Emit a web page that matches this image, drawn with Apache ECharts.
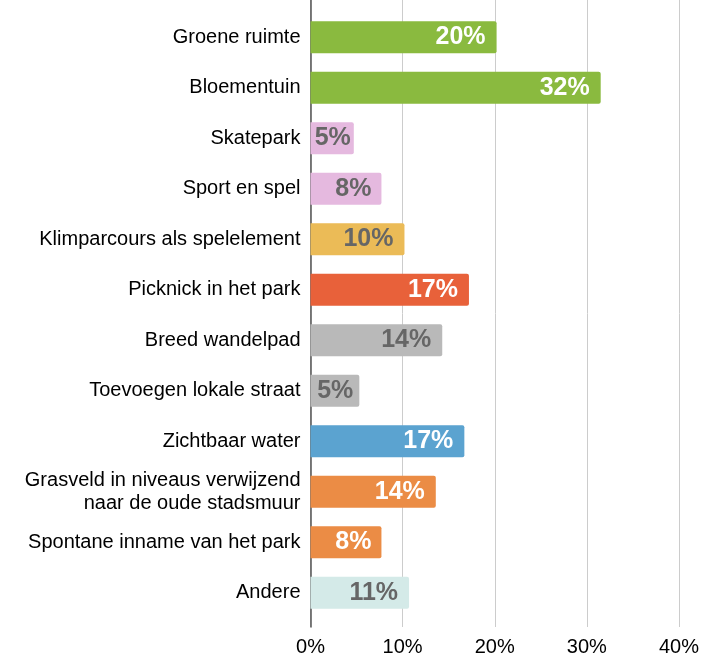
<html>
<head>
<meta charset="utf-8">
<title>Voorkeuren park</title>
<script src="https://cdn.jsdelivr.net/npm/echarts@6/dist/echarts.min.js"></script>
</head>
<body style="margin:0;background:#fff">
<div id="main" style="width:712px;height:658px;"></div>
<script>
// categorieen (boven naar onder)
var categories = [
  'Groene ruimte', 'Bloementuin', 'Skatepark', 'Sport en spel',
  'Klimparcours als spelelement', 'Picknick in het park', 'Breed wandelpad',
  'Toevoegen lokale straat', 'Zichtbaar water',
  'Grasveld in niveaus verwijzend\nnaar de oude stadsmuur',
  'Spontane inname van het park', 'Andere'
];
var values = [20.2, 31.5, 4.7, 7.7, 10.2, 17.2, 14.3, 5.3, 16.7, 13.6, 7.7, 10.7];
var barColors = ['#8aba3f', '#8aba3f', '#e5b9df', '#e5b9df', '#ebbb57', '#e8613a',
  '#b9b9b9', '#b9b9b9', '#5ba3d0', '#eb8c45', '#eb8c45', '#d4eae8'];
var labelColors = ['#fff', '#fff', '#666', '#666', '#666', '#fff',
  '#666', '#666', '#fff', '#fff', '#fff', '#666'];
// afstand label tot balkeinde (korte balken: label blijft binnen de balk)
var labelGaps = [11, 11, 3, 10, 11, 11, 11, 6, 11, 11, 10, 11];
var ticks = [0, 10, 20, 30, 40];

var myChart = echarts.init(document.getElementById('main'));

var data = [];
for (var i = 0; i < values.length; i++) {
  data.push({
    value: values[i],
    itemStyle: { color: barColors[i], borderRadius: [0, 2, 2, 0] },
    label: { color: labelColors[i], distance: labelGaps[i] }
  });
}

var option = {
  animation: false,
  grid: [
    { left: 310.5, right: 33, top: 12, height: 606 },   // balken
    { left: 310.5, right: 33, top: 0, height: 627 }     // rasterlijnen + as
  ],
  xAxis: [{
    gridIndex: 0,
    type: 'value',
    min: ticks[0],
    max: ticks[ticks.length - 1],
    interval: 10,
    show: false
  }, {
    gridIndex: 1,
    type: 'value',
    min: ticks[0],
    max: ticks[ticks.length - 1],
    interval: 10,
    axisLine: { show: false },
    axisTick: { show: false },
    splitLine: { lineStyle: { color: '#cccccc', width: 1 } },
    axisLabel: {
      formatter: '{value}%',
      color: '#000',
      fontSize: 20,
      fontFamily: 'Liberation Sans',
      margin: 10
    }
  }],
  yAxis: [{
    gridIndex: 0,
    type: 'category',
    inverse: true,
    data: categories,
    axisLine: { show: false },
    axisTick: { show: false },
    axisLabel: {
      color: '#000',
      fontSize: 20,
      fontFamily: 'Liberation Sans',
      lineHeight: 23,
      margin: 10,
      align: 'right'
    }
  }, {
    gridIndex: 1,
    type: 'value',
    min: 0,
    max: 1,
    axisLine: { show: true, onZero: false, lineStyle: { color: '#555', width: 1.5 } },
    axisTick: { show: false },
    axisLabel: { show: false },
    splitLine: { show: false }
  }],
  series: [{
    type: 'bar',
    xAxisIndex: 0,
    yAxisIndex: 0,
    data: data,
    barWidth: 32,
    z: 3,
    label: {
      show: true,
      position: 'insideRight',
      fontSize: 25,
      fontWeight: 'bold',
      fontFamily: 'Liberation Sans',
      formatter: function (p) { return Math.round(p.value) + '%'; }
    }
  }]
};

myChart.setOption(option);
</script>
</body>
</html>
